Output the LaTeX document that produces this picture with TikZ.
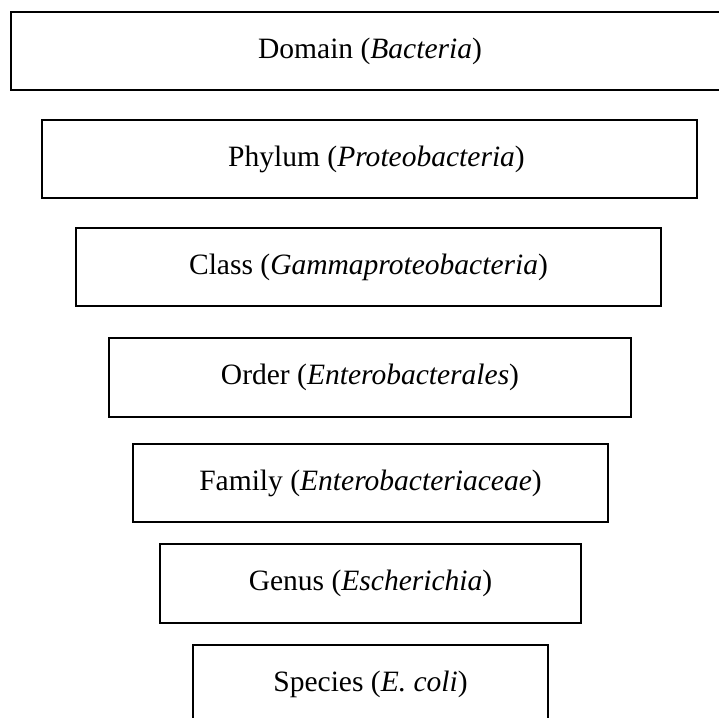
\documentclass[tikz,border=0pt]{standalone}
\usepackage{fontspec}
\setmainfont{Liberation Serif}
\usetikzlibrary{positioning}

\begin{document}
\begin{tikzpicture}[
    rank/.style={draw, line width=0.9pt, minimum height=1.57cm, inner sep=0pt, align=center, font=\fontsize{16.8pt}{20pt}\selectfont}
]
\useasboundingbox (0,0) rectangle (14.38,-14.34);
\node[rank, minimum width=14.36cm] (domain) at (7.40,-1.02) {Domain (\textit{Bacteria})};
\node[rank, minimum width=13.10cm] (phylum) at (7.39,-3.18) {\hspace{0.28cm}Phylum (\textit{Proteobacteria})};
\node[rank, minimum width=11.70cm] (class) at (7.37,-5.34) {Class (\textit{Gammaproteobacteria})};
\node[rank, minimum width=10.44cm] (order) at (7.40,-7.55) {Order (\textit{Enterobacterales})};
\node[rank, minimum width=9.50cm] (family) at (7.41,-9.66) {Family (\textit{Enterobacteriaceae})};
\node[rank, minimum width=8.42cm] (genus) at (7.41,-11.67) {Genus (\textit{Escherichia})};
\node[rank, minimum width=7.10cm] (species) at (7.41,-13.69) {Species (\textit{E. coli})};
\end{tikzpicture}
\end{document}
